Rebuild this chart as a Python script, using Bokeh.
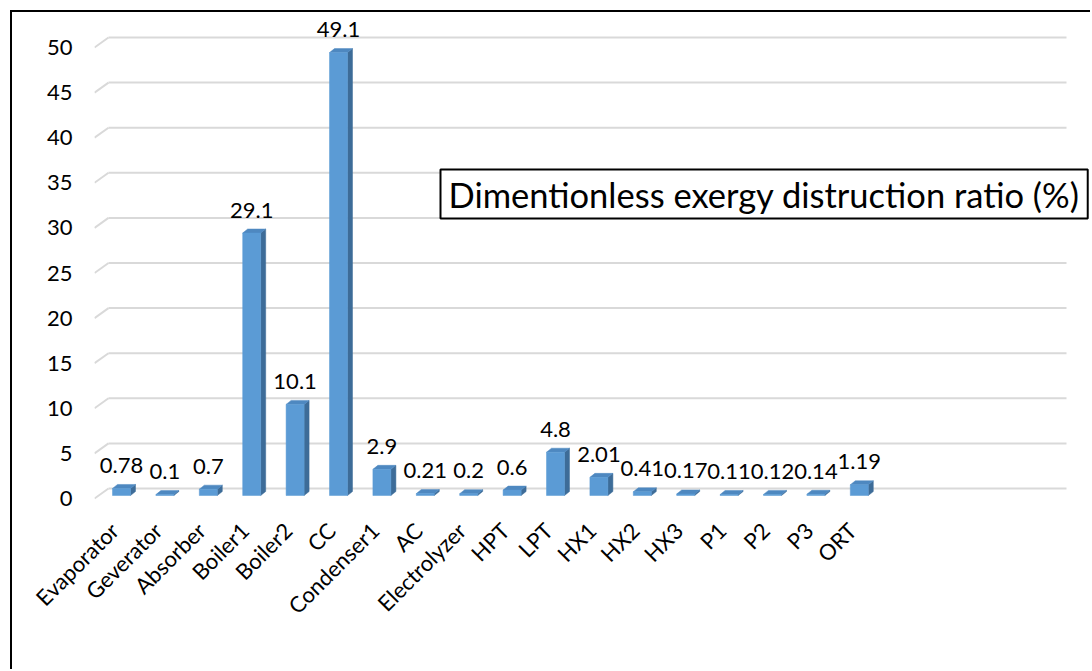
import math
from bokeh.plotting import figure
from bokeh.models import FixedTicker, Range1d, LinearAxis, Label, ColumnDataSource
from bokeh.core.properties import value
from bokeh.embed import file_html
from bokeh.resources import INLINE

# --- data -----------------------------------------------------------------
components = ["Evaporator", "Geverator", "Absorber", "Boiler1", "Boiler2", "CC",
              "Condenser1", "AC", "Electrolyzer", "HPT", "LPT", "HX1", "HX2",
              "HX3", "P1", "P2", "P3", "ORT"]
ratio = [0.78, 0.1, 0.7, 29.1, 10.1, 49.1, 2.9, 0.21, 0.2, 0.6, 4.8, 2.01,
         0.41, 0.17, 0.11, 0.12, 0.14, 1.19]
y_ticks = [0, 5, 10, 15, 20, 25, 30, 35, 40, 45, 50]
chart_title = "Dimentionless exergy distruction ratio (%)"

# --- layout (page pixels; the canvas starts after a 10px margin + 2px border) --
OFF = 12
W, H = 1092 - OFF, 671 - OFF
FRAME_L, FRAME_R, FRAME_T, FRAME_B = 94, 1092, 15, 505
XS = 43.4          # pixels per category
YS = 9.02          # pixels per percent
FIRST_CX = 121     # pixel centre of the first column
ZERO_PY = 495      # pixel row of zero on the column plane

x_start = -(FIRST_CX - FRAME_L) / XS
x_end = x_start + (FRAME_R - FRAME_L) / XS
y_start = -(FRAME_B - ZERO_PY) / YS
y_end = y_start + (FRAME_B - FRAME_T) / YS


def dx(px):
    return px / XS


def dy(px):
    return px / YS


def to_x(px):
    return x_start + (px - FRAME_L) / XS


def to_y(py):
    return y_start + (FRAME_B - py) / YS


# wall / floor perspective offsets
BACK_OFF = dy(ZERO_PY - 488)
FRONT_OFF = dy(ZERO_PY - 498)
BACK_L = to_x(108)
BACK_R = to_x(1066)

# column geometry
BAR_W = dx(18)
DEPTH_X = dx(5)
DEPTH_Y = dy(4)

FRONT_C = "#5B9BD5"
TOP_C = "#4E88C0"
SIDE_C = "#3D6C98"
GRID_C = "#D9D9D9"
FONT = "Lato"

p = figure(width=W, height=H, x_range=Range1d(x_start, x_end),
           y_range=Range1d(y_start, y_end), output_backend="svg",
           toolbar_location=None, x_axis_location=None, y_axis_location=None,
           min_border_left=FRAME_L - OFF, min_border_right=1092 - FRAME_R,
           min_border_top=FRAME_T - OFF, min_border_bottom=671 - FRAME_B,
           styles={"margin-left": "10px", "margin-top": "10px",
                   "border-left": "2px solid black",
                   "border-top": "2px solid black"})
p.outline_line_color = None
p.xgrid.visible = False
p.ygrid.visible = False
p.background_fill_color = "white"
p.border_fill_color = "white"

# y axis sits on the front edge of the floor, slightly below the column plane
p.extra_y_ranges = {"front": Range1d(y_start - FRONT_OFF, y_end - FRONT_OFF)}
yax = LinearAxis(y_range_name="front", ticker=FixedTicker(ticks=y_ticks))
yax.axis_line_color = None
yax.major_tick_line_color = None
yax.minor_tick_line_color = None
yax.major_label_standoff = 16
yax.major_label_text_font = FONT
yax.major_label_text_font_size = "22px"
yax.major_label_text_color = "black"
p.add_layout(yax, "left")

# category labels, nudged left so each ends just under its column
p.extra_x_ranges = {"labels": Range1d(x_start + dx(7), x_end + dx(7))}
xax = LinearAxis(x_range_name="labels",
                 ticker=FixedTicker(ticks=list(range(len(components)))))
xax.major_label_overrides = {i: c for i, c in enumerate(components)}
xax.major_label_orientation = math.pi / 4
xax.axis_line_color = None
xax.major_tick_line_color = None
xax.minor_tick_line_color = None
xax.major_label_standoff = 15
xax.major_label_text_font = FONT
xax.major_label_text_font_size = "22px"
xax.major_label_text_color = "black"
p.add_layout(xax, "below")

# back-wall gridlines with their short perspective run to the front edge
p.segment(x0=[BACK_L] * len(y_ticks), y0=[t + BACK_OFF for t in y_ticks],
          x1=[BACK_R] * len(y_ticks), y1=[t + BACK_OFF for t in y_ticks],
          line_color=GRID_C, line_width=2)
p.segment(x0=[x_start] * len(y_ticks), y0=[t + FRONT_OFF for t in y_ticks],
          x1=[BACK_L] * len(y_ticks), y1=[t + BACK_OFF for t in y_ticks],
          line_color=GRID_C, line_width=2)

# 3-D columns: right side face, top face, front face
idx = list(range(len(ratio)))
side_xs, side_ys, top_xs, top_ys = [], [], [], []
for i, v in zip(idx, ratio):
    l, r = i - BAR_W / 2, i + BAR_W / 2
    side_xs.append([r, r + DEPTH_X, r + DEPTH_X, r])
    side_ys.append([0, DEPTH_Y, v + DEPTH_Y, v])
    top_xs.append([l, r, r + DEPTH_X, l + DEPTH_X])
    top_ys.append([v, v, v + DEPTH_Y, v + DEPTH_Y])
p.patches(xs=side_xs, ys=side_ys, fill_color=SIDE_C, line_color=SIDE_C, line_width=0.5)
p.patches(xs=top_xs, ys=top_ys, fill_color=TOP_C, line_color=TOP_C, line_width=0.5)
p.quad(left=[i - BAR_W / 2 for i in idx], right=[i + BAR_W / 2 for i in idx],
       bottom=[0] * len(idx), top=ratio, fill_color=FRONT_C, line_color=FRONT_C,
       line_width=0.5)

# value labels above each column
src = ColumnDataSource(dict(x=idx, y=ratio, t=[str(v) for v in ratio]))
p.text(x="x", y="y", text="t", source=src, text_align="center",
       text_baseline="alphabetic", y_offset=-23, text_font=value(FONT),
       text_font_size="22px", text_color="black")

# boxed chart title
p.add_layout(Label(x=to_x(440), y=to_y(193.5), text=chart_title,
                   text_font=FONT, text_font_size="34.5px", text_color="black",
                   text_align="left", text_baseline="middle",
                   border_line_color="black", border_line_width=2,
                   background_fill_color="white",
                   padding=dict(left=8, right=8, top=4, bottom=4)))

open("out.html", "w").write(file_html(p, INLINE))
